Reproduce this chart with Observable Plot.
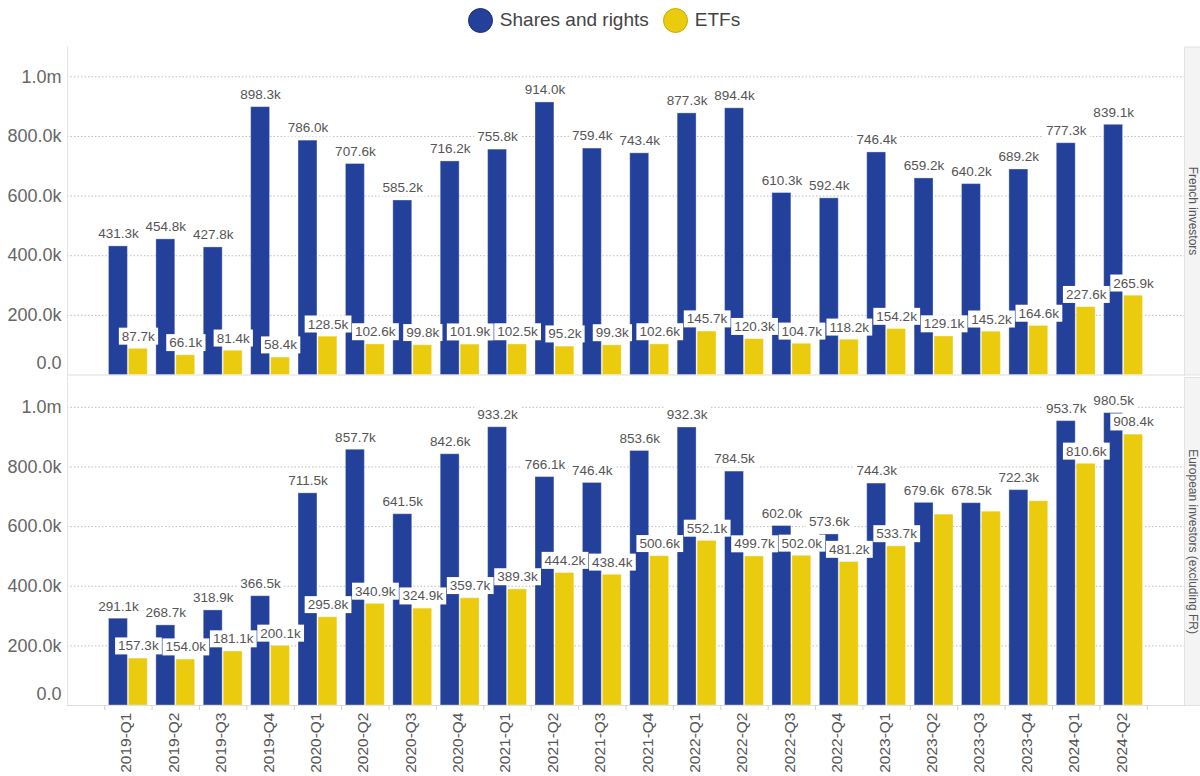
<!DOCTYPE html>
<html>
<head>
<meta charset="utf-8">
<script src="https://cdn.jsdelivr.net/npm/d3@7"></script>
<script src="https://cdn.jsdelivr.net/npm/@observablehq/plot@0.6"></script>
<style>
  body { margin: 0; background: #fff; font-family: "Liberation Sans", Arial, sans-serif; }
  #legend { height: 40px; display: flex; justify-content: center; align-items: center; padding-left: 8px; }
  .item { display: flex; align-items: center; margin: 0 7px; font-size: 19px; color: #444; }
  .dot { width: 23px; height: 23px; border-radius: 50%; margin-right: 7px; box-sizing: content-box; }
  #chart svg { display: block; }
</style>
</head>
<body>
<div id="legend"></div>
<div id="chart"></div>
<script>
// Quarterly categories along the x axis
const quarters = [
  "2019-Q1", "2019-Q2", "2019-Q3", "2019-Q4",
  "2020-Q1", "2020-Q2", "2020-Q3", "2020-Q4",
  "2021-Q1", "2021-Q2", "2021-Q3", "2021-Q4",
  "2022-Q1", "2022-Q2", "2022-Q3", "2022-Q4",
  "2023-Q1", "2023-Q2", "2023-Q3", "2023-Q4",
  "2024-Q1", "2024-Q2"
];

// Facet rows and series
const panels = ["French investors", "European investors (excluding FR)"];
const seriesNames = ["Shares and rights", "ETFs"];
const seriesColors = ["#23409a", "#ebcb0e"];
const seriesOutlines = ["#1a2f73", "#c9aa00"];

// Values in thousands
const frenchShares = [431.3, 454.8, 427.8, 898.3, 786.0, 707.6, 585.2, 716.2, 755.8, 914.0, 759.4,
                      743.4, 877.3, 894.4, 610.3, 592.4, 746.4, 659.2, 640.2, 689.2, 777.3, 839.1];
const frenchEtfs = [87.7, 66.1, 81.4, 58.4, 128.5, 102.6, 99.8, 101.9, 102.5, 95.2, 99.3,
                    102.6, 145.7, 120.3, 104.7, 118.2, 154.2, 129.1, 145.2, 164.6, 227.6, 265.9];
const europeanShares = [291.1, 268.7, 318.9, 366.5, 711.5, 857.7, 641.5, 842.6, 933.2, 766.1, 746.4,
                        853.6, 932.3, 784.5, 602.0, 573.6, 744.3, 679.6, 678.5, 722.3, 953.7, 980.5];
const europeanEtfs = [157.3, 154.0, 181.1, 200.1, 295.8, 340.9, 324.9, 359.7, 389.3, 444.2, 438.4,
                      500.6, 552.1, 499.7, 502.0, 481.2, 533.7, 640.0, 650.0, 685.0, 810.6, 908.4];
// ETF bars whose labels collide with the neighbouring label and stay hidden
const europeanEtfsUnlabelled = ["2023-Q2", "2023-Q3", "2023-Q4"];

const yTicks = [0, 200, 400, 600, 800, 1000];

// Long-format table built from the arrays above
const table = [];
[[frenchShares, frenchEtfs, []], [europeanShares, europeanEtfs, europeanEtfsUnlabelled]]
  .forEach(([shares, etfs, hidden], p) => {
    quarters.forEach((q, i) => {
      table.push({quarter: q, panel: panels[p], series: seriesNames[0], value: shares[i], labelled: true});
      table.push({quarter: q, panel: panels[p], series: seriesNames[1], value: etfs[i], labelled: !hidden.includes(q)});
    });
  });
const sharesRows = table.filter(d => d.series === seriesNames[0]);
const etfRows = table.filter(d => d.series === seriesNames[1]);

const fmt = v => v === 0 ? "0.0" : v >= 1000 ? (v / 1000).toFixed(1) + "m" : v.toFixed(1) + "k";

// Legend
const legend = document.getElementById("legend");
seriesNames.forEach((name, i) => {
  const item = document.createElement("div");
  item.className = "item";
  const dot = document.createElement("span");
  dot.className = "dot";
  dot.style.background = seriesColors[i];
  dot.style.border = `1px solid ${seriesOutlines[i]}`;
  item.appendChild(dot);
  item.appendChild(document.createTextNode(name));
  legend.appendChild(item);
});

// Layout
const width = 1200, height = 736;
const marginLeft = 67, marginRight = 16, marginTop = 6.5, marginBottom = 71;
const padIn = 0.18, padOut = 0.875;
const step = (width - marginLeft - marginRight) / (quarters.length - padIn + 2 * padOut);
const half = step * (1 - padIn) / 2;
const gap = 0.5;

const labelStyle = {fontSize: 13.5, fill: "#555", dy: -12.5};

const chart = Plot.plot({
  width, height, marginLeft, marginRight, marginTop, marginBottom,
  style: {fontFamily: "'Liberation Sans', Arial, sans-serif", background: "#fff", color: "#555"},
  x: {domain: quarters, paddingInner: padIn, paddingOuter: padOut, round: false, label: null},
  y: {domain: [0, 1100], label: null},
  fy: {domain: panels, paddingInner: 0.0076, paddingOuter: 0, round: false, label: null, axis: null},
  marks: [
    // facet label strip on the right
    Plot.frame({fill: "#f4f4f4", stroke: "#e2e2e2", insetLeft: width - marginLeft - marginRight, insetRight: -marginRight}),
    Plot.gridY({ticks: yTicks.slice(1), stroke: "#bdbdbd", strokeOpacity: 1, strokeDasharray: "1.5,2"}),
    Plot.frame({anchor: "left", stroke: "#e3e3e3"}),
    Plot.frame({anchor: "bottom", stroke: "#dcdcdc"}),
    Plot.axisY({ticks: yTicks.slice(1), tickSize: 0, tickPadding: 6, tickFormat: fmt, fontSize: 18, fill: "#666"}),
    Plot.axisY({ticks: [0], tickSize: 0, tickPadding: 6, tickFormat: fmt, fontSize: 18, fill: "#666", dy: -11.5}),
    Plot.barY(sharesRows, {x: "quarter", y: "value", fy: "panel", fill: seriesColors[0],
      insetRight: half + gap, stroke: "#fff", strokeOpacity: 0.35, strokeWidth: 1}),
    Plot.barY(etfRows, {x: "quarter", y: "value", fy: "panel", fill: seriesColors[1],
      insetLeft: half + gap, stroke: "#fff", strokeOpacity: 0.35, strokeWidth: 1}),
    Plot.text(sharesRows, {x: "quarter", y: "value", fy: "panel", text: d => fmt(d.value),
      dx: -(half + gap) / 2, ...labelStyle}),
    Plot.text(etfRows.filter(d => d.labelled), {x: "quarter", y: "value", fy: "panel", text: d => fmt(d.value),
      dx: (half + gap) / 2, ...labelStyle}),
    // band-edge ticks and rotated quarter labels
    Plot.axisX({tickSize: 5, text: null, dx: -step / 2, stroke: "#d0d0d0"}),
    Plot.axisX({ticks: quarters.slice(-1), tickSize: 5, text: null, dx: step / 2, stroke: "#d0d0d0"}),
    Plot.axisX({tickSize: 0, tickPadding: 7, tickRotate: -90, fontSize: 15.5, fill: "#555", dx: -2}),
    Plot.text(panels, {fy: d => d, text: d => d, frameAnchor: "right", textAnchor: "middle",
      dx: 8, rotate: 90, fontSize: 12, fill: "#555"})
  ]
});

document.getElementById("chart").appendChild(chart);

// White boxes behind the value labels
const svgNS = "http://www.w3.org/2000/svg";
chart.querySelectorAll('g[aria-label="text"] text').forEach(t => {
  if (!/\d[km]$/.test(t.textContent)) return;
  const b = t.getBBox();
  const r = document.createElementNS(svgNS, "rect");
  r.setAttribute("x", b.x - 3);
  r.setAttribute("y", b.y - 1);
  r.setAttribute("width", b.width + 6);
  r.setAttribute("height", b.height + 2);
  r.setAttribute("fill", "#fff");
  r.setAttribute("stroke", "none");
  const tr = t.getAttribute("transform");
  if (tr) r.setAttribute("transform", tr);
  t.parentNode.insertBefore(r, t);
});
</script>
</body>
</html>
